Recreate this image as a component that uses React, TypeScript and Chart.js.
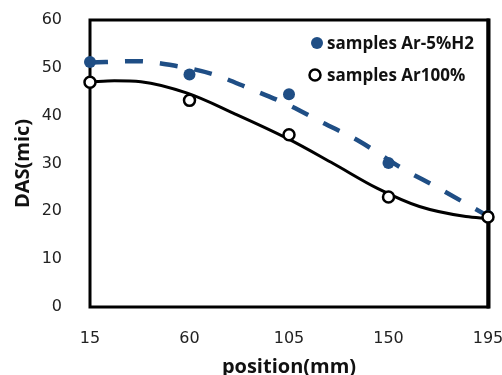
import React, { useEffect, useRef } from "react";
import { Chart, registerables } from "chart.js";

Chart.register(...registerables);

// measured points
const positions = [15, 60, 105, 150, 195];
const dasH2 = [51.2, 48.6, 44.5, 30.1, 19.0];
const dasAr = [47.0, 43.2, 36.0, 23.0, 18.8];

// smooth trend curves
const trendH2X = [15, 36, 54, 71, 87, 104, 120, 137, 155, 172, 195];
const trendH2Y = [51.1, 51.4, 50.4, 48.6, 45.7, 42.4, 38.6, 34.6, 29.3, 25.0, 19.0];
const trendArX = [15, 26, 38, 59, 80, 104, 125, 145, 164, 185, 195];
const trendArY = [47.0, 47.3, 47.1, 44.7, 40.5, 35.3, 30.0, 24.8, 21.0, 18.9, 18.5];

const xTicks = [15, 60, 105, 150, 195];
const yTicks = [0, 10, 20, 30, 40, 50, 60];

const legendLabels = ["samples Ar-5%H2", "samples Ar100%"];

const BLUE = "#1f4e85";

const toXY = (xs: number[], ys: number[]) => xs.map((x, i) => ({ x, y: ys[i] }));

const framePlugin = {
  id: "frame",
  beforeDatasetsDraw(chart: any) {
    const { ctx, chartArea } = chart;
    ctx.save();
    ctx.strokeStyle = "#000";
    ctx.lineWidth = 3;
    ctx.strokeRect(chartArea.left, chartArea.top, chartArea.right - chartArea.left, chartArea.bottom - chartArea.top);
    ctx.lineWidth = 4;
    ctx.beginPath();
    ctx.moveTo(chartArea.right + 0.5, chartArea.top - 1.5);
    ctx.lineTo(chartArea.right + 0.5, chartArea.bottom + 1.5);
    ctx.stroke();
    ctx.restore();
  },
  afterDraw(chart: any) {
    const { ctx, chartArea } = chart;
    const mx = chartArea.right - 173;
    const rows = [chartArea.top + 23, chartArea.top + 55];
    ctx.save();
    ctx.fillStyle = BLUE;
    ctx.beginPath();
    ctx.arc(mx + 2, rows[0], 6, 0, Math.PI * 2);
    ctx.fill();
    ctx.fillStyle = "#fff";
    ctx.strokeStyle = "#000";
    ctx.lineWidth = 2.5;
    ctx.beginPath();
    ctx.arc(mx, rows[1], 5.5, 0, Math.PI * 2);
    ctx.fill();
    ctx.stroke();
    ctx.fillStyle = "#111";
    ctx.font = "bold 17px 'Open Sans'";
    ctx.textBaseline = "middle";
    ctx.textAlign = "left";
    ctx.fillText(legendLabels[0], mx + 12, rows[0] + 1);
    ctx.fillText(legendLabels[1], mx + 12, rows[1] + 1);
    ctx.restore();
  },
};

export default function App() {
  const ref = useRef<HTMLCanvasElement>(null);
  useEffect(() => {
    document.body.style.margin = "0";
    const chart = new Chart(ref.current!, {
      type: "scatter",
      data: {
        datasets: [
          {
            label: legendLabels[1],
            data: toXY(positions, dasAr),
            pointRadius: 5.5,
            pointBackgroundColor: "#fff",
            pointBorderColor: "#000",
            pointBorderWidth: 2.5,
            clip: false,
          } as any,
          {
            label: legendLabels[0],
            data: toXY(positions, dasH2),
            pointRadius: 6,
            pointBackgroundColor: BLUE,
            pointBorderColor: BLUE,
            pointBorderWidth: 0,
            clip: false,
          },
          {
            label: "trend Ar",
            data: toXY(trendArX, trendArY),
            showLine: true,
            pointRadius: 0,
            borderColor: "#000",
            borderWidth: 3,
            cubicInterpolationMode: "monotone",
            clip: false,
          },
          {
            label: "trend H2",
            data: toXY(trendH2X, trendH2Y),
            showLine: true,
            pointRadius: 0,
            borderColor: BLUE,
            borderWidth: 4.5,
            borderDash: [18, 17],
            cubicInterpolationMode: "monotone",
            clip: false,
          },
        ],
      },
      options: {
        animation: false,
        responsive: false,
        layout: { padding: { left: 0, right: 14, top: 20, bottom: 0 } },
        plugins: { legend: { display: false }, tooltip: { enabled: false } },
        scales: {
          x: {
            type: "linear",
            min: 15,
            max: 195,
            afterBuildTicks: (s: any) => {
              s.ticks = xTicks.map((v) => ({ value: v }));
            },
            afterFit: (s: any) => {
              s.height = 68;
              s.paddingLeft = 0;
              s.paddingRight = 0;
            },
            grid: { display: false },
            border: { display: false },
            ticks: { padding: 14, color: "#222", font: { family: "'DejaVu Sans'", size: 16 } },
            title: {
              display: true,
              text: "position(mm)",
              color: "#111",
              padding: { top: 0, bottom: -4 },
              font: { family: "'Open Sans'", size: 20, weight: "bold" },
            },
          },
          y: {
            min: 0,
            max: 60,
            afterBuildTicks: (s: any) => {
              s.ticks = yTicks.map((v) => ({ value: v }));
            },
            afterFit: (s: any) => {
              s.width = 90;
              s.paddingTop = 0;
              s.paddingBottom = 0;
            },
            grid: { display: false },
            border: { display: false },
            ticks: { padding: 20, color: "#222", font: { family: "'DejaVu Sans'", size: 16 } },
            title: {
              display: true,
              text: "DAS(mic)",
              color: "#111",
              padding: { top: 11, bottom: 0 },
              font: { family: "'Open Sans'", size: 20, weight: "bold" },
            },
          },
        },
      },
      plugins: [framePlugin],
    } as any);
    return () => chart.destroy();
  }, []);
  return (
    <div style={{ width: 502, height: 375 }}>
      <canvas ref={ref} width={502} height={375} style={{ width: 502, height: 375, display: "block" }} />
    </div>
  );
}
